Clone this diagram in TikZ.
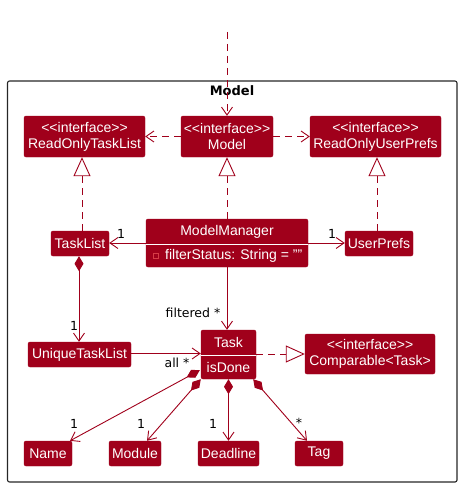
\documentclass[tikz,border=0pt]{standalone}
\usepackage{fontspec}
\setmainfont[Ligatures=NoCommon]{Liberation Sans}
\newfontfamily\lblfont{DejaVu Sans}
\usetikzlibrary{arrows.meta,calc}
\definecolor{umlred}{RGB}{160,0,27}
\definecolor{iconred}{RGB}{214,60,70}
\newcommand{\stereo}{{<}{<}interface{>}{>}}
\tikzset{
  cls/.style={fill=umlred, draw=umlred, rounded corners=2pt, text=white, inner sep=0pt, font=\fontsize{14}{16}\selectfont, align=center},
  conn/.style={draw=umlred, line width=0.9pt},
  dashedconn/.style={conn, dash pattern=on 7pt off 5pt},
  headarrow/.style={-{Straight Barb[length=8pt,width=11pt,line width=0.9pt]}},
  realize/.style={-{Triangle[open,length=19pt,width=17pt,line width=0.9pt,fill=white]}},
  compo/.style={{Diamond[length=15pt,width=9pt]}-{Straight Barb[length=8pt,width=11pt,line width=0.9pt]}},
  lbl/.style={font=\lblfont\fontsize{12.5}{14}\selectfont, text=black, inner sep=0pt},
  txt/.style={text=white, inner sep=0pt, font=\fontsize{14}{16}\selectfont}
}
\begin{document}
\begin{tikzpicture}[x=1pt,y=-1pt]
\useasboundingbox (0,0) rectangle (462,487);
% frame
\draw[black!85, line width=1.1pt, rounded corners=2pt] (7.5,81) rectangle (457,482);
\node[font=\lblfont\bfseries\fontsize{13}{15}\selectfont, inner sep=0pt] (title) at (232,91) {Model};

% top row
\node[cls, minimum width=121pt, minimum height=41pt] (rotl) at (84.5,136.5) {\stereo\\ReadOnlyTaskList};
\node[cls, minimum width=92pt, minimum height=41pt] (model) at (227,136.5) {\stereo\\Model};
\node[cls, minimum width=131pt, minimum height=41pt] (roup) at (375.5,136.5) {\stereo\\ReadOnlyUserPrefs};

% middle row
\node[cls, minimum width=58pt, minimum height=25pt] (tasklist) at (80,243.5) {TaskList};
\node[cls, minimum width=162pt, minimum height=48pt] (mm) at (227,243) {};
\node[txt] (mmname) at (227,231.5) {ModelManager};
\node[txt, anchor=west] (mmattr) at (165,256) {filterStatus: String = ""};
\draw[white, line width=1pt] (mm.west |- 0,244) -- (mm.east |- 0,244);
\draw[iconred, line width=0.8pt] (153.5,253.5) rectangle (158.5,258.5);
\node[cls, minimum width=68pt, minimum height=25pt] (userprefs) at (379,243.5) {UserPrefs};

% task row
\node[cls, minimum width=103pt, minimum height=25pt] (utl) at (79.5,354.5) {UniqueTaskList};
\node[cls, minimum width=55pt, minimum height=49pt] (task) at (228.5,354.5) {};
\node[txt] (taskname) at (228.5,342) {Task};
\node[txt] (taskattr) at (228.5,367) {isDone};
\draw[white, line width=1pt] (task.west |- 0,355) -- (task.east |- 0,355);
\node[cls, minimum width=130pt, minimum height=40pt] (comp) at (370,354) {\stereo\\Comparable{<}Task{>}};

% bottom row
\node[cls, minimum width=48pt, minimum height=25pt] (name) at (48,453.5) {Name};
\node[cls, minimum width=52pt, minimum height=25pt] (module) at (135,453.5) {Module};
\node[cls, minimum width=61pt, minimum height=25pt] (deadline) at (228.5,453.5) {Deadline};
\node[cls, minimum width=48pt, minimum height=25pt] (tag) at (319,453.5) {Tag};

% helper coordinates
\coordinate (tlTop) at ($(tasklist.north)+(2,0)$);
\coordinate (tlTri) at (tlTop |- rotl.south);
\coordinate (upTop) at ($(userprefs.north)+(-2,0)$);
\coordinate (upTri) at (upTop |- roup.south);
\coordinate (tlBot) at ($(tasklist.south)+(-1,0)$);
\coordinate (utlTop) at (tlBot |- utl.north);
\coordinate (tnStart) at ($(task.south west)+(-1,-9)$);
\coordinate (nameEnd) at ($(name.north)+(22,0)$);
\coordinate (tmStart) at (task.south west);
\coordinate (modEnd) at ($(module.north)+(12,0)$);
\coordinate (ttStart) at ($(task.south east)+(-3,0)$);
\coordinate (tagEnd) at ($(tag.north)+(-12,0)$);

% connectors
\coordinate (topin) at (227,32);
\draw[dashedconn, headarrow] (topin) -- (model.north);
\draw[dashedconn, headarrow] (model.west) -- (rotl.east);
\draw[dashedconn, headarrow] (model.east) -- (roup.west);

\draw[dashedconn, realize] (tlTop) -- (tlTri);
\draw[dashedconn, realize] (mm.north) -- (model.south);
\draw[dashedconn, realize] (upTop) -- (upTri);

\draw[conn, headarrow] (mm.west |- 0,243) -- (tasklist.east |- 0,243);
\node[lbl] (l1) at (121,234) {1};
\draw[conn, headarrow] (mm.east |- 0,243) -- (userprefs.west |- 0,243);
\node[lbl] (l2) at (332,234) {1};

\draw[conn, compo] (tlBot) -- (utlTop);
\node[lbl] (l3) at (74,326) {1};

\draw[conn, headarrow] (mm.south) -- (mm.south |- task.north);
\node[lbl] (l4) at (193,313) {filtered *};

\draw[conn, headarrow] (utl.east |- 0,353.5) -- (task.west |- 0,353.5);
\node[lbl] (l5) at (177,363) {all *};

\draw[dashedconn, realize] (task.east |- 0,354) -- (comp.west |- 0,354);

\draw[conn, compo] (tnStart) -- (nameEnd);
\node[lbl] (l6) at (74,424) {1};
\draw[conn, compo] (tmStart) -- (modEnd);
\node[lbl] (l7) at (141,424) {1};
\draw[conn, compo] (task.south) -- (deadline.north);
\node[lbl] (l8) at (213,424) {1};
\draw[conn, compo] (ttStart) -- (tagEnd);
\node[lbl] (l9) at (299,423) {*};
\end{tikzpicture}
\end{document}
